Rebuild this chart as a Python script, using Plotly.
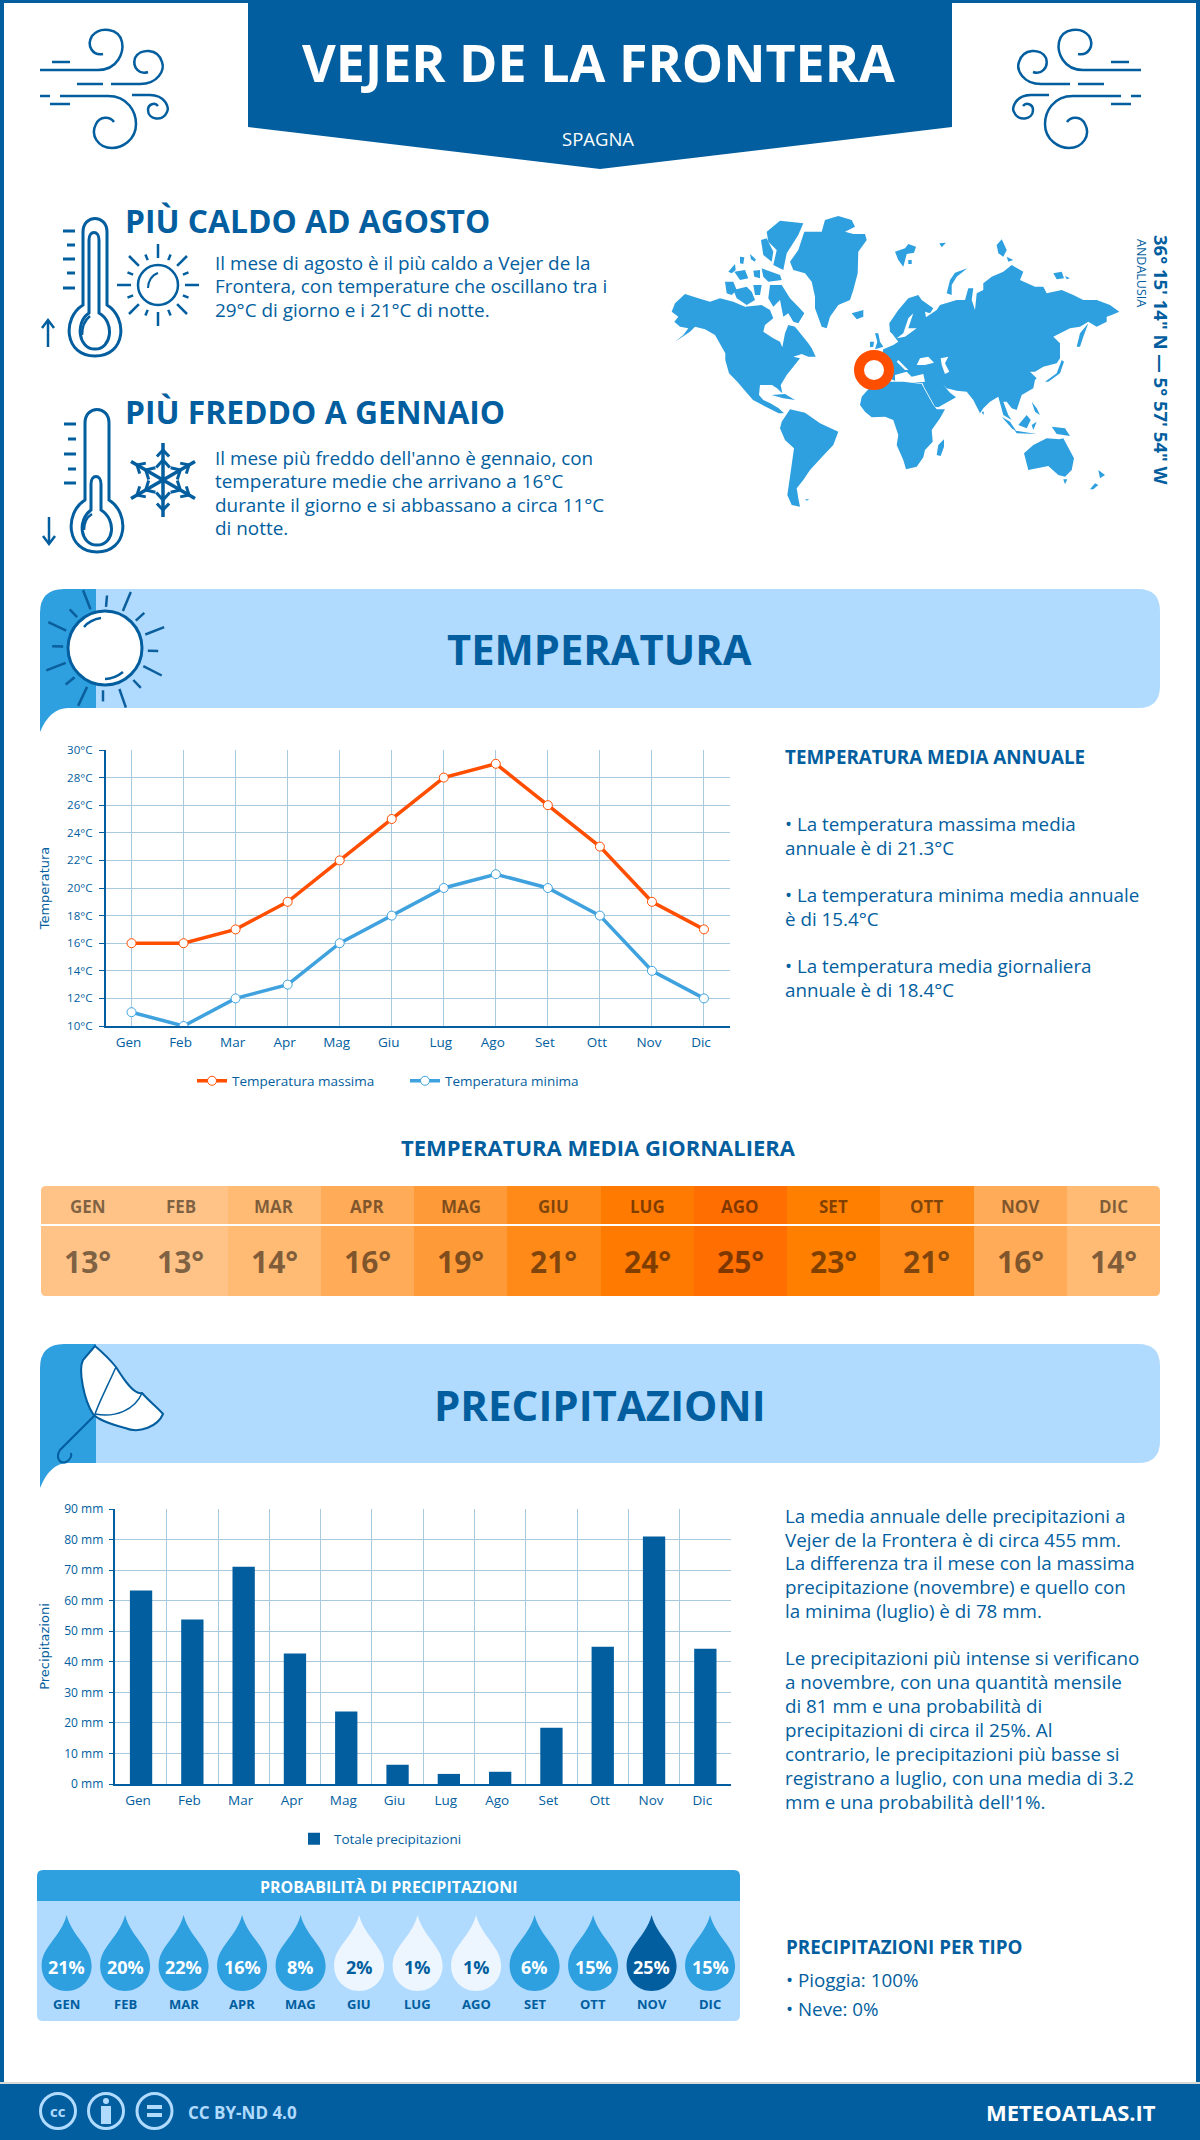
import math
import re

import plotly.graph_objects as go

W, H = 1200, 2140
BLUE = "#025e9e"
MID = "#2e9fdf"
LIGHT = "#b0dbff"
ORANGE = "#ff4e00"
GRID = "#a9c9df"
FONT = "Open Sans"

months = ["Gen", "Feb", "Mar", "Apr", "Mag", "Giu", "Lug", "Ago", "Set", "Ott", "Nov", "Dic"]
temp_max = [16, 16, 17, 19, 22, 25, 28, 29, 26, 23, 19, 17]
temp_min = [11, 10, 12, 13, 16, 18, 20, 21, 20, 18, 14, 12]
temp_daily = [13, 13, 14, 16, 19, 21, 24, 25, 23, 21, 16, 14]
rain_mm = [63.3, 53.8, 71.1, 42.7, 23.7, 6.3, 3.3, 4.0, 18.4, 44.9, 81.0, 44.3]
rain_prob = [21, 20, 22, 16, 8, 2, 1, 1, 6, 15, 25, 15]

daily_scale = [
    (13, "#ffc387"), (14, "#ffbb74"), (16, "#ffab58"), (19, "#ff9a39"),
    (21, "#ff8a18"), (23, "#ff8000"), (24, "#ff7a00"), (25, "#ff6e00"),
]

head_hot = ["Il mese di agosto è il più caldo a Vejer de la",
            "Frontera, con temperature che oscillano tra i",
            "29°C di giorno e i 21°C di notte."]
head_cold = ["Il mese più freddo dell'anno è gennaio, con",
             "temperature medie che arrivano a 16°C",
             "durante il giorno e si abbassano a circa 11°C",
             "di notte."]
temp_notes = [(824, "• La temperatura massima media"), (848, "annuale è di 21.3°C"),
              (895, "• La temperatura minima media annuale"), (919, "è di 15.4°C"),
              (966, "• La temperatura media giornaliera"), (990, "annuale è di 18.4°C")]
rain_notes = ["La media annuale delle precipitazioni a",
              "Vejer de la Frontera è di circa 455 mm.",
              "La differenza tra il mese con la massima",
              "precipitazione (novembre) e quello con",
              "la minima (luglio) è di 78 mm."]
rain_notes2 = ["Le precipitazioni più intense si verificano",
               "a novembre, con una quantità mensile",
               "di 81 mm e una probabilità di",
               "precipitazioni di circa il 25%. Al",
               "contrario, le precipitazioni più basse si",
               "registrano a luglio, con una media di 3.2",
               "mm e una probabilità dell'1%."]

map_west = [
    [(20,305),(30,280),(60,252),(100,265),(135,275),(165,265),(205,275),(240,290),(290,285),(315,300),(325,325),(300,345),(295,365),(325,385),(345,395),(352,412),(360,370),(370,345),(390,350),(410,375),(430,400),(440,415),(452,440),(430,440),(410,432),(385,440),(405,445),(385,470),(365,495),(347,525),(352,550),(336,535),(321,525),(285,525),(282,555),(295,570),(316,580),(341,595),(357,610),(341,610),(305,592),(264,570),(238,540),(217,515),(192,490),(181,450),(181,430),(150,375),(120,358),(90,350),(75,365),(30,395),(55,375),(70,355),(45,350),(28,335),(40,320)],
    [(315,225),(350,225),(375,265),(400,290),(418,310),(400,340),(385,335),(370,310),(355,320),(345,270),(325,290),(310,265)],
    [(180,215),(205,215),(215,240),(200,255),(185,250)],
    [(205,240),(245,230),(260,245),(270,270),(245,285),(215,265)],
    [(265,225),(290,225),(285,255),(270,255)],
    [(190,185),(210,162),(212,180),(200,190)],
    [(208,185),(240,180),(250,205),(225,210)],
    [(265,182),(285,180),(285,205),(268,200)],
    [(225,140),(238,142),(235,162),(225,160)],
    [(255,132),(272,148),(270,155),(258,148)],
    [(290,175),(345,195),(350,210),(310,215),(295,200)],
    [(288,90),(305,85),(325,125),(320,155),(295,135)],
    [(305,65),(345,32),(415,40),(400,75),(365,130),(355,180),(325,165),(335,120),(310,95)],
    [(375,155),(400,120),(418,65),(470,65),(480,30),(520,18),(560,30),(570,50),(540,65),(565,72),(600,72),(605,90),(580,125),(578,190),(565,240),(555,270),(520,285),(495,320),(485,355),(470,350),(450,295),(450,260),(440,215),(420,190),(385,180)],
    [(560,310),(595,300),(595,320),(575,328)],
]
map_east = [
    [(120,400),(130,358),(160,345),(175,335),(155,310),(170,325),(195,320),(230,295),(205,295),(220,250),(205,265),(190,310),(170,325),(150,305),(148,280),(175,240),(205,205),(235,195),(245,210),(280,235),(270,250),(255,245),(258,262),(290,240),(300,225),(350,210),(375,210),(385,175),(400,175),(395,210),(405,240),(410,190),(430,180),(430,160),(455,140),(490,125),(515,105),(550,125),(540,150),(585,170),(610,170),(620,190),(665,180),(700,195),(730,210),(770,210),(810,225),(838,245),(815,255),(800,260),(800,275),(770,290),(745,275),(720,290),(690,295),(640,320),(660,340),(660,385),(650,400),(610,410),(585,425),(570,425),(590,445),(585,450),(580,475),(545,495),(540,510),(530,540),(515,535),(500,515),(490,515),(505,555),(515,570),(490,555),(475,500),(450,515),(430,535),(420,550),(400,510),(380,485),(350,482),(320,475),(308,462),(330,488),(348,502),(295,532),(285,530),(252,470),(248,460),(170,455),(140,440)],
    [(165,65),(195,55),(205,42),(228,50),(222,68),(200,72),(190,110),(175,90)],
    [(205,90),(215,90),(215,102),(205,102)],
    [(298,40),(318,38),(305,52)],
    [(470,45),(485,28),(500,60),(490,80),(475,70)],
    [(500,80),(520,90),(505,95)],
    [(320,190),(330,150),(345,128),(382,115),(350,140),(335,165),(335,195)],
    [(640,130),(665,125),(672,145),(650,148)],
    [(675,138),(690,145),(680,148)],
    [(105,310),(115,310),(120,335),(130,350),(105,358),(112,335)],
    [(90,335),(102,335),(100,350),(90,352)],
    [(615,455),(650,430),(665,390),(672,395),(660,430),(625,455)],
    [(710,350),(720,310),(745,280),(730,320),(720,350)],
]
map_seas = [
    [(230,405),(240,385),(265,380),(282,398),(255,405)],
    [(302,385),(325,380),(315,400),(328,425),(315,432),(305,405)],
    [(165,435),(200,425),(215,440),(250,432),(255,455),(205,460),(165,455)],
    [(175,390),(205,420),(195,420),(170,395)],
]
map_south = [
    [(270,105),(275,80),(295,58),(345,35),(400,35),(455,42),(470,70),(490,105),(500,118),(525,118),(510,145),(485,180),(488,215),(465,240),(460,262),(440,290),(408,298),(400,270),(380,225),(385,195),(370,150),(345,140),(305,142),(285,125)],
    [(500,255),(505,225),(522,208),(522,230),(512,258)],
    [(30,175),(35,155),(60,118),(105,128),(150,160),(205,185),(190,225),(155,262),(120,300),(100,330),(80,355),(85,385),(90,410),(65,405),(52,375),(60,320),(72,235),(45,210)],
    [(105,388),(118,388),(110,392)],
    [(5,75),(45,72),(75,90),(40,85)],
    [(635,125),(642,125),(640,136)],
    [(762,250),(790,225),(830,205),(868,208),(880,205),(912,265),(905,300),(885,320),(865,315),(835,288),(775,300)],
    [(880,328),(892,328),(885,343)],
    [(960,358),(975,340),(985,345),(970,358)],
    [(985,300),(1005,315),(990,325)],
    [(695,140),(720,155),(740,185),(725,175)],
    [(735,182),(800,192),(740,190)],
    [(745,165),(770,135),(782,150),(770,175)],
    [(785,165),(800,155),(790,180)],
    [(845,170),(885,175),(900,198),(860,192)],
    [(785,95),(800,115),(810,135),(795,125)],
]

shapes = []
notes = []


def path(d, fill=None, line=None, width=2.5, layer="below"):
    shapes.append(dict(
        type="path", path=d, xref="x3", yref="y3", layer=layer,
        fillcolor=fill or "rgba(0,0,0,0)",
        line=dict(color=line or "rgba(0,0,0,0)", width=width if line else 0),
    ))


def rect(x0, y0, x1, y1, fill, layer="below"):
    shapes.append(dict(type="rect", x0=x0, y0=y0, x1=x1, y1=y1, xref="x3", yref="y3",
                       fillcolor=fill, line_width=0, layer=layer))


def circle(cx, cy, r, fill=None, line=None, width=2.5):
    shapes.append(dict(type="circle", x0=cx - r, y0=cy - r, x1=cx + r, y1=cy + r,
                       xref="x3", yref="y3", layer="below",
                       fillcolor=fill or "rgba(0,0,0,0)",
                       line=dict(color=line or "rgba(0,0,0,0)", width=width if line else 0)))


def seg(x0, y0, x1, y1, width=2.5, color=BLUE):
    path(f"M{x0:.1f},{y0:.1f} L{x1:.1f},{y1:.1f}", line=color, width=width)


def text(x, y, s, size=18, bold=False, color=BLUE, anchor="left", angle=0, family=FONT, xref="x3"):
    notes.append(dict(
        x=x, y=y, xref=xref, yref="y3", text=f"<b>{s}</b>" if bold else s, showarrow=False,
        xanchor=anchor, yanchor="middle", textangle=angle,
        font=dict(family=family, size=size, color=color),
    ))


def mirror(d, c):
    def swap(m):
        return f"{c - float(m.group(1)):.1f},{m.group(2)}"
    return re.sub(r"(-?[\d.]+),(-?[\d.]+)", swap, d)


def map_polys(polys, ox, oy, fill):
    for poly in polys:
        pts = [(ox + a / 3, oy + b / 3) for a, b in poly]
        path("M" + " L".join(f"{a:.1f},{b:.1f}" for a, b in pts) + " Z", fill=fill)


# page frame, header, footer
rect(0, 0, W, 3, BLUE)
rect(0, 0, 4, H, BLUE)
rect(W - 4, 0, W, H, BLUE)
path("M248,0 L952,0 L952,127 L600,169 L248,127 Z", fill=BLUE)
rect(0, 2082, W, 2084, "#d8d8d8")
rect(0, 2084, W, H, BLUE)

text(598, 61, "VEJER DE LA FRONTERA", 52, True, "white", "center")
text(598, 138, "SPAGNA", 18.5, False, "white", "center")

wind = [
    "M40,70 L98,70 C118,70 124,52 122,42 C119,28 100,26 92,36 C86,46 93,56 103,54",
    "M52,62 L70,62", "M77,84 L103,84",
    "M111,84 L140,84 C158,84 165,70 162,62 C158,48 140,48 135,58 C132,68 140,75 148,72",
    "M40,96 L50,96", "M50,104 L70,104",
    "M60,96 L108,96 C128,96 136,112 136,124 C136,140 122,148 112,148 C98,148 90,135 96,124 C100,116 110,116 114,122",
    "M132,95 L150,95 C165,95 170,108 167,112 C163,122 148,120 148,110 C148,104 155,102 158,106",
]
for d in wind:
    path(d, line=BLUE, width=2.5)
    path(mirror(d, 1181), line=BLUE, width=2.5)

# hot / cold blocks
path("M83,305 L83,232 C83,214 107,214 107,232 L107,305 C128,318 126,356 95,356 C64,356 62,318 83,305 Z", line=BLUE, width=3)
path("M89,313 L89,240 C89,230 99,230 99,240 L99,313 C115,322 112,349 95,349 C78,349 75,322 89,313 Z", line=BLUE, width=3)
path("M82,335 C82,326 85,320 90,316", line=BLUE)
for i, ty in enumerate([231, 245, 259, 273, 288]):
    seg(63 if i % 2 == 0 else 67, ty, 75, ty, 3)
seg(48, 320, 48, 347)
path("M42,328 L48,320 L54,328", line=BLUE)
circle(158, 285, 20, line=BLUE)
path("M148,288 C148,281 152,275 158,273", line=BLUE, width=2)
for k in range(16):
    a = k * math.pi / 8
    r0, r1 = (27, 41) if k % 2 == 0 else (27, 33)
    seg(158 + r0 * math.cos(a), 285 + r0 * math.sin(a), 158 + r1 * math.cos(a), 285 + r1 * math.sin(a))

path("M85,500 L85,423 C85,405 109,405 109,423 L109,500 C130,513 128,552 97,552 C66,552 64,513 85,500 Z", line=BLUE, width=3)
path("M91,510 L91,484 C91,474 101,474 101,484 L101,510 C117,520 114,545 97,545 C80,545 77,520 91,510 Z", line=BLUE, width=3)
path("M84,530 C84,522 87,517 92,514", line=BLUE)
for i, ty in enumerate([424, 439, 454, 469, 483]):
    seg(64 if i % 2 == 0 else 68, ty, 76, ty, 3)
seg(49, 517, 49, 544)
path("M43,536 L49,544 L55,536", line=BLUE)
for k in range(6):
    a = math.pi / 2 + k * math.pi / 3
    ca, sa = math.cos(a), math.sin(a)
    seg(163, 480, 163 + 37 * ca, 480 + 37 * sa, 3.5)
    for r, b in [(20, 10), (30, 9)]:
        for s in (-1, 1):
            px, py = 163 + r * ca, 480 + r * sa
            t = a + s * 2.4
            seg(px, py, px + b * math.cos(t), py + b * math.sin(t), 3)

text(123, 220, "PIÙ CALDO AD AGOSTO", 31.8, True)
for y, s in zip([263, 286, 310], head_hot):
    text(213, y, s, 18.9)
text(123, 411, "PIÙ FREDDO A GENNAIO", 31.8, True)
for y, s in zip([458, 481, 505, 528], head_cold):
    text(213, y, s, 18.9)

# map
map_polys(map_west, 665, 210, MID)
map_polys(map_east, 840, 230, MID)
map_polys(map_seas, 840, 230, "white")
map_polys(map_south, 770, 370, MID)
circle(874, 370, 15, fill="white", line=ORANGE, width=10)
text(1162, 360, "36° 15' 14\" N — 5° 57' 54\" W", 18.5, True, anchor="center", angle=90)
text(1142, 273, "ANDALUSIA", 12.5, anchor="center", angle=90)


def banner(top, bottom, tail):
    path(f"M96,{top} L1138,{top} Q1160,{top} 1160,{top+22} L1160,{bottom-22} Q1160,{bottom} 1138,{bottom} L96,{bottom} Z", fill=LIGHT)
    path(f"M40,{tail} L40,{top+24} Q40,{top} 64,{top} L96,{top} L96,{bottom} L68,{bottom} Q50,{bottom} 40,{tail} Z", fill=MID)


# temperature banner
banner(589, 708, 732)
circle(105, 648, 37, fill="white", line=BLUE, width=3)
path("M84,627 C89,621 94,619 101,618", line=BLUE)
path("M105,679 C112,679 118,676 123,672", line=BLUE)
sun_rays = [(167,30,182,85),(215,45,213,78),(263,35,247,90),(290,95,273,118),(330,137,292,158),
            (318,206,297,205),(325,277,288,250),(283,313,268,290),(240,316,253,370),(207,320,207,352),
            (175,310,157,365),(150,282,132,303),(132,240,93,262),(127,193,105,192),(133,147,97,122),(155,108,140,85)]
for a, b, c, d in sun_rays:
    seg(a / 2.01, 580 + b / 2.9, c / 2.01, 580 + d / 2.9, 2.5, "#0b5f9c")
text(599, 648, "TEMPERATURA", 41.7, True, anchor="center")

text(783, 757, "TEMPERATURA MEDIA ANNUALE", 18.8, True)
for y, s in temp_notes:
    text(783, y, s, 18.8)

# daily strip
text(598, 1147, "TEMPERATURA MEDIA GIORNALIERA", 22, True, anchor="center")
rect(41, 1224, 1160, 1226, "white", layer="above")
for cx, cy, sx, sy in [(41, 1186, 1, 1), (1160, 1186, -1, 1), (41, 1296, 1, -1), (1160, 1296, -1, -1)]:
    path(f"M{cx},{cy} L{cx+5*sx},{cy} Q{cx},{cy} {cx},{cy+5*sy} Z", fill="white", layer="above")
for m, t in zip(months, temp_daily):
    text(m, 1206, m.upper(), 17, True, "rgba(0,0,0,0.5)", "center", xref="x4")
    text(m, 1261, f"{t}°", 30, True, "rgba(0,0,0,0.5)", "center", xref="x4")

# rain banner
banner(1344, 1463, 1488)
path("M95,1346 C102,1352 112,1362 116,1367 C124,1380 134,1395 142,1393 C150,1402 158,1408 163,1414 C158,1426 140,1434 125,1428 C110,1424 98,1420 93,1414 C84,1400 78,1370 83,1360 Z", fill="white", line=BLUE, width=2)
path("M116,1367 C108,1385 100,1400 95,1414", line=BLUE, width=1.5)
path("M142,1393 C135,1410 115,1418 95,1414", line=BLUE, width=1.5)
path("M95,1415 L60,1450 C55,1458 60,1464 66,1462 C70,1460 72,1456 71,1453", line=BLUE, width=2)
text(600, 1404, "PRECIPITAZIONI", 42, True, anchor="center")

for y, s in zip([1516, 1540, 1563, 1587, 1611], rain_notes):
    text(783, y, s, 18.8)
for y, s in zip([1658, 1682, 1706, 1730, 1754, 1778, 1802], rain_notes2):
    text(783, y, s, 18.8)

# probability panel
path("M43,1870 L734,1870 Q740,1870 740,1876 L740,1901 L37,1901 L37,1876 Q37,1870 43,1870 Z", fill=MID)
path("M37,1901 L740,1901 L740,2015 Q740,2021 734,2021 L43,2021 Q37,2021 37,2015 Z", fill=LIGHT)
text(389, 1887, "PROBABILITÀ DI PRECIPITAZIONI", 16, True, "white", "center")
for i, (m, p) in enumerate(zip(months, rain_prob)):
    cx = 66.6 + 58.5 * i
    if p >= 25:
        fill, ink = BLUE, "white"
    elif p <= 2:
        fill, ink = "#edf6ff", BLUE
    else:
        fill, ink = MID, "white"
    path(f"M{cx:.1f},1915 C{cx+6:.1f},1938 {cx+25:.1f},1946 {cx+25:.1f},1966 "
         f"C{cx+25:.1f},1980 {cx+14:.1f},1991 {cx:.1f},1991 "
         f"C{cx-14:.1f},1991 {cx-25:.1f},1980 {cx-25:.1f},1966 "
         f"C{cx-25:.1f},1946 {cx-6:.1f},1938 {cx:.1f},1915 Z", fill=fill)
    text(cx, 1967, f"{p}%", 18, True, ink, "center")
    text(cx, 2004, m.upper(), 13, True, BLUE, "center")

text(784, 1947, "PRECIPITAZIONI PER TIPO", 18.8, True)
text(784, 1980, "• Pioggia: 100%", 18.8)
text(784, 2009, "• Neve: 0%", 18.8)

# footer
for cx in (58, 106, 154.5):
    circle(cx, 2111, 17.5, line=LIGHT, width=3)
text(58, 2111, "cc", 15, True, LIGHT, "center")
circle(106, 2101, 3, fill=LIGHT)
rect(101, 2106, 111, 2124, LIGHT)
rect(147, 2105, 162, 2109, LIGHT)
rect(147, 2113, 162, 2117, LIGHT)
text(186, 2112, "CC BY-ND 4.0", 17, True, LIGHT)
text(1158, 2112, "METEOATLAS.IT", 22, True, "white", "right")

fig = go.Figure()
fig.add_trace(go.Scatter(
    x=months, y=temp_max, name="Temperatura massima", mode="lines+markers",
    line=dict(color=ORANGE, width=3.5),
    marker=dict(size=9, color="white", line=dict(color=ORANGE, width=1)),
    xaxis="x", yaxis="y", legend="legend",
))
fig.add_trace(go.Scatter(
    x=months, y=temp_min, name="Temperatura minima", mode="lines+markers",
    line=dict(color="#3fa2de", width=3.5),
    marker=dict(size=9, color="white", line=dict(color="#3fa2de", width=1)),
    xaxis="x", yaxis="y", legend="legend",
))
fig.add_trace(go.Bar(
    x=months, y=rain_mm, name="Totale precipitazioni", width=0.435,
    marker=dict(color=BLUE, line_width=0),
    xaxis="x2", yaxis="y2", legend="legend2",
))
fig.add_trace(go.Heatmap(
    z=[temp_daily], x=months, y=[0], zmin=13, zmax=25, showscale=False, hoverinfo="skip",
    colorscale=[[(t - 13) / 12, c] for t, c in daily_scale],
    xaxis="x4", yaxis="y4",
))
fig.add_trace(go.Scatter(
    x=[0], y=[0], mode="markers", marker=dict(opacity=0), showlegend=False,
    hoverinfo="skip", xaxis="x3", yaxis="y3",
))


def x_dom(a, b):
    return [a / W, b / W]


def y_dom(top, bottom):
    return [1 - bottom / H, 1 - top / H]


tick_font = dict(family=FONT, size=13.5, color=BLUE)
title_font = dict(family="DejaVu Sans", size=13, color=BLUE)
axis_common = dict(showgrid=True, gridcolor=GRID, zeroline=False, fixedrange=True)

fig.update_layout(
    width=W, height=H,
    margin=dict(l=0, r=0, t=0, b=0, autoexpand=False),
    paper_bgcolor="white", plot_bgcolor="rgba(0,0,0,0)",
    font=dict(family=FONT, color=BLUE),
    xaxis=dict(domain=x_dom(105.5, 730), anchor="y", range=[-0.5, 11.5], type="category",
               gridwidth=1, tickfont=tick_font, ticks="", ticklabelshift=-3, ticklabelstandoff=3,
               showline=True, linecolor=BLUE, linewidth=1.5, **axis_common),
    yaxis=dict(domain=y_dom(750, 1026), anchor="x", range=[10, 30], dtick=2, ticksuffix="°C",
               gridwidth=1.2, tickfont=dict(family=FONT, size=11.5, color=BLUE), ticks="outside",
               ticklen=5, tickcolor=BLUE, ticklabelstandoff=4, showline=True, linecolor=BLUE,
               linewidth=1.5,
               title=dict(text="Temperatura", font=title_font, standoff=15), **axis_common),
    xaxis2=dict(domain=x_dom(115.4, 731), anchor="y2", range=[-0.5, 11.5], type="category",
                tickson="boundaries", gridwidth=1, tickfont=tick_font, ticks="", ticklabelshift=-3,
                ticklabelstandoff=3, showline=True, linecolor=BLUE, linewidth=1.5, **axis_common),
    yaxis2=dict(domain=y_dom(1509, 1784), anchor="x2", range=[0, 90], dtick=10, ticksuffix=" mm",
                gridwidth=1.2, tickfont=dict(family=FONT, size=12, color=BLUE), ticks="outside",
                ticklen=5, tickcolor=BLUE, ticklabelstandoff=3, showline=True, linecolor=BLUE,
                linewidth=1.5,
                title=dict(text="Precipitazioni", font=title_font, standoff=12), **axis_common),
    xaxis3=dict(domain=[0, 1], anchor="y3", range=[0, W], visible=False, fixedrange=True),
    yaxis3=dict(domain=[0, 1], anchor="x3", range=[H, 0], visible=False, fixedrange=True),
    xaxis4=dict(domain=x_dom(41, 1160), anchor="y4", type="category", visible=False, fixedrange=True),
    yaxis4=dict(domain=y_dom(1186, 1296), anchor="x4", visible=False, fixedrange=True),
    legend=dict(orientation="h", x=192 / W, y=1 - 1081 / H, yanchor="middle", xanchor="left",
                font=dict(family=FONT, size=13.5, color=BLUE), itemwidth=30, entrywidth=168,
                bgcolor="rgba(0,0,0,0)"),
    legend2=dict(orientation="h", x=294 / W, y=1 - 1839 / H, yanchor="middle", xanchor="left",
                 font=dict(family=FONT, size=13.5, color=BLUE), bgcolor="rgba(0,0,0,0)"),
    shapes=shapes,
    annotations=notes,
)

fig.write_html(
    "out.html",
    config=dict(displayModeBar=False),
    post_script="document.body.style.margin='0';document.body.style.overflow='hidden';",
)
